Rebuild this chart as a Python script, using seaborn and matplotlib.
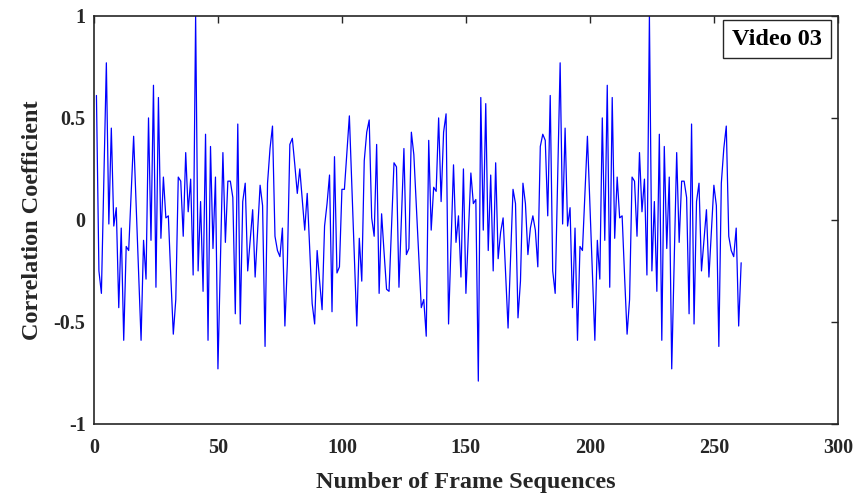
import numpy as np
import pandas as pd
import matplotlib
matplotlib.use("Agg")
import matplotlib.pyplot as plt
import seaborn as sns

# correlation coefficient per frame sequence
corr_values = [
    0.61, -0.25, -0.36, 0.20, 0.77, -0.02, 0.45, -0.03, 0.06, -0.43,
    -0.04, -0.59, -0.13, -0.15, 0.13, 0.41, 0.08, -0.25, -0.59, -0.10,
    -0.29, 0.50, -0.10, 0.66, -0.33, 0.60, -0.09, 0.21, 0.01, 0.02,
    -0.28, -0.56, -0.39, 0.21, 0.19, -0.08, 0.33, 0.04, 0.20, -0.27,
    1.00, -0.25, 0.09, -0.35, 0.42, -0.59, 0.36, -0.14, 0.21, -0.73,
    -0.20, 0.33, -0.11, 0.19, 0.19, 0.11, -0.46, 0.47, -0.51, 0.09,
    0.18, -0.25, -0.10, 0.05, -0.28, -0.05, 0.17, 0.07, -0.62, 0.18,
    0.35, 0.46, -0.08, -0.15, -0.18, -0.04, -0.52, -0.21, 0.37, 0.40,
    0.27, 0.13, 0.25, 0.10, -0.05, 0.13, -0.14, -0.41, -0.51, -0.15,
    -0.30, -0.44, -0.03, 0.08, 0.22, -0.45, 0.31, -0.26, -0.23, 0.15,
    0.15, 0.33, 0.51, 0.17, -0.17, -0.52, -0.09, -0.30, 0.29, 0.43,
    0.49, 0.01, -0.08, 0.37, -0.36, 0.03, -0.16, -0.34, -0.35, -0.03,
    0.28, 0.26, -0.33, 0.01, 0.35, -0.17, -0.14, 0.43, 0.32, 0.07,
    -0.18, -0.43, -0.39, -0.57, 0.39, -0.05, 0.16, 0.14, 0.50, 0.09,
    0.43, 0.52, -0.51, -0.12, 0.27, -0.11, 0.02, -0.28, 0.25, -0.36,
    -0.07, 0.23, 0.08, 0.10, -0.79, 0.60, -0.05, 0.57, -0.15, 0.22,
    -0.25, 0.28, -0.19, -0.06, 0.01, -0.26, -0.53, -0.19, 0.15, 0.08,
    -0.48, -0.30, 0.18, 0.08, -0.17, -0.04, 0.02, -0.05, -0.23, 0.36,
    0.42, 0.39, 0.02, 0.61, -0.25, -0.36, 0.20, 0.77, -0.02, 0.45,
    -0.03, 0.06, -0.43, -0.04, -0.59, -0.13, -0.15, 0.13, 0.41, 0.08,
    -0.25, -0.59, -0.10, -0.29, 0.50, -0.10, 0.66, -0.33, 0.60, -0.09,
    0.21, 0.01, 0.02, -0.28, -0.56, -0.39, 0.21, 0.19, -0.08, 0.33,
    0.04, 0.20, -0.27, 1.00, -0.25, 0.09, -0.35, 0.42, -0.59, 0.36,
    -0.14, 0.21, -0.73, -0.20, 0.33, -0.11, 0.19, 0.19, 0.11, -0.46,
    0.47, -0.51, 0.09, 0.18, -0.25, -0.10, 0.05, -0.28, -0.05, 0.17,
    0.07, -0.62, 0.18, 0.35, 0.46, -0.08, -0.15, -0.18, -0.04, -0.52,
    -0.21,
]
frames = list(range(1, len(corr_values) + 1))

x_ticks = [0, 50, 100, 150, 200, 250, 300]
y_ticks = [-1, -0.5, 0, 0.5, 1]
y_tick_labels = ["-1", "-0.5", "0", "0.5", "1"]

sns.set_style("white")
plt.rcParams['font.family'] = ['Liberation Serif', 'DejaVu Serif']
plt.rcParams['font.weight'] = 'bold'
plt.rcParams['axes.unicode_minus'] = False

df = pd.DataFrame({"frame": frames, "corr": corr_values})

fig = plt.figure(figsize=(8.62, 4.97), dpi=100)
ax = fig.add_axes([0.109, 0.147, 0.863, 0.821])

sns.lineplot(data=df, x="frame", y="corr", color="#0000ff", linewidth=0.9, ax=ax)

ax.set_xlim(0, 300)
ax.set_ylim(-1, 1)
ax.set_xticks(x_ticks)
ax.set_xticklabels([str(t) for t in x_ticks])
ax.set_yticks(y_ticks)
ax.set_yticklabels(y_tick_labels)
ax.tick_params(direction='in', top=True, right=True, length=5, width=1,
               labelsize=14.5, color='#262626', labelcolor='#262626')
ax.tick_params(axis='x', pad=10)
ax.tick_params(axis='y', pad=6)
for t in ax.get_xticklabels() + ax.get_yticklabels():
    t.set_fontweight('bold')
for sp in ax.spines.values():
    sp.set_visible(True)
    sp.set_color('#262626')
    sp.set_linewidth(1.2)

ax.set_xlabel("Number of Frame Sequences", fontsize=17.5, fontweight='bold',
              color='#262626', labelpad=10)
ax.set_ylabel("Correlation Coefficient", fontsize=17.5, fontweight='bold',
              color='#262626', labelpad=8)

ax.text(0.918, 0.943, "Video 03", transform=ax.transAxes, ha='center', va='center',
        fontsize=17.5, fontweight='bold', color='black',
        bbox=dict(boxstyle='square,pad=0.36', facecolor='white', edgecolor='#262626', linewidth=1))

fig.savefig("out.png", dpi=100)
